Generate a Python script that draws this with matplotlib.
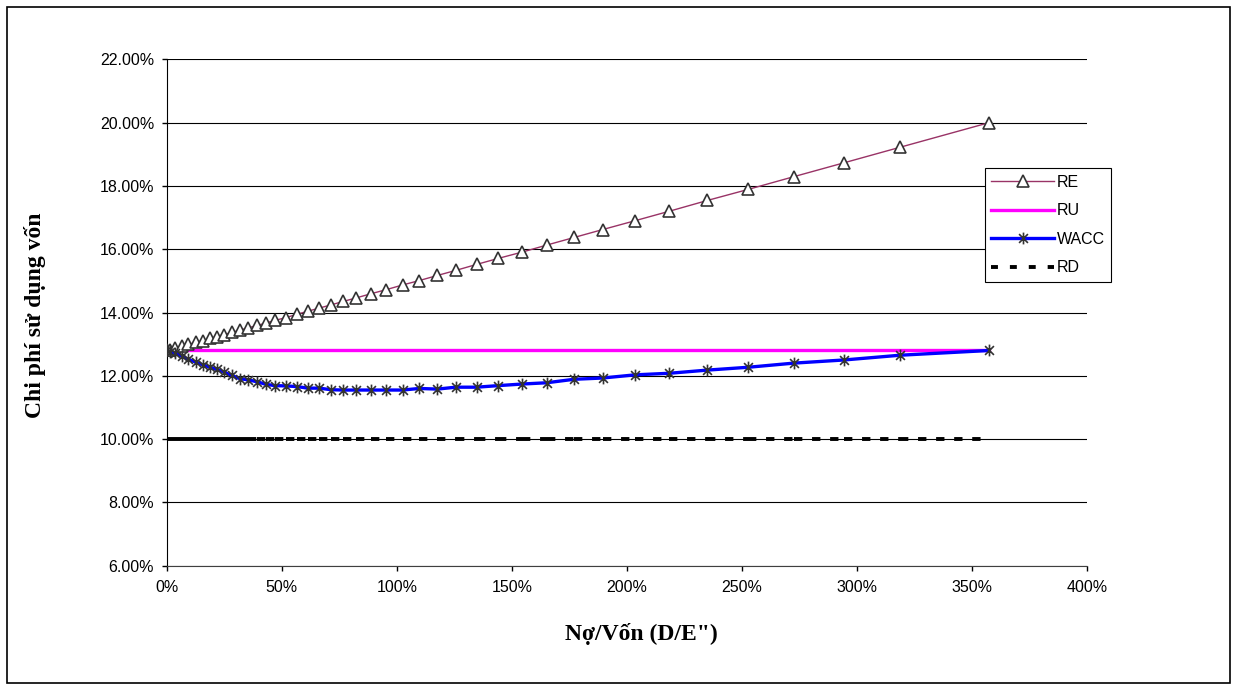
import numpy as np
import matplotlib.pyplot as plt
from matplotlib.collections import LineCollection
from matplotlib.lines import Line2D
from matplotlib.patches import Rectangle
from matplotlib.path import Path
from matplotlib.ticker import FuncFormatter, MultipleLocator

plt.rcParams['font.family'] = ['Liberation Sans', 'DejaVu Sans']
plt.rcParams['lines.scale_dashes'] = False

# debt / equity ratio (%)
de_ratio = [0, 1.4, 3.6, 6.5, 9.4, 12.7, 15.6, 18.8, 21.7, 24.9, 28.2, 31.8, 35.5,
            39.4, 43.1, 47.1, 51.8, 56.5, 61.3, 66.3, 71.4, 76.7, 82.3, 88.6, 95.3,
            102.5, 109.8, 117.6, 125.6, 134.7, 144.1, 154.5, 165.1, 177.0, 189.4,
            203.5, 218.4, 234.9, 252.7, 272.4, 294.3, 318.6, 357.4]

# cost of equity (%)
re = [12.80, 12.83, 12.87, 12.93, 12.99, 13.06, 13.11, 13.18, 13.24, 13.30, 13.37,
      13.44, 13.52, 13.59, 13.67, 13.75, 13.84, 13.94, 14.04, 14.14, 14.24, 14.35,
      14.46, 14.59, 14.72, 14.87, 15.01, 15.17, 15.33, 15.52, 15.71, 15.91, 16.13,
      16.37, 16.62, 16.90, 17.20, 17.54, 17.89, 18.29, 18.73, 19.22, 20.00]

# unlevered cost of capital (%)
ru = [12.8] * len(de_ratio)

# weighted average cost of capital (%)
wacc = [12.80, 12.76, 12.71, 12.62, 12.52, 12.43, 12.35, 12.27, 12.20, 12.12, 12.01,
        11.91, 11.87, 11.81, 11.73, 11.69, 11.68, 11.66, 11.61, 11.61, 11.56, 11.55,
        11.55, 11.55, 11.55, 11.55, 11.60, 11.58, 11.64, 11.64, 11.69, 11.74, 11.78,
        11.89, 11.93, 12.03, 12.08, 12.18, 12.27, 12.40, 12.50, 12.65, 12.80]

# cost of debt (%)
rd = [10.0] * len(de_ratio)

# Excel-like star marker: vertical bar plus an X
star = Path([(0, -1), (0, 1), (-0.75, -0.75), (0.75, 0.75), (-0.75, 0.75), (0.75, -0.75)],
            [Path.MOVETO, Path.LINETO] * 3)

W, H = 1237, 690
fig = plt.figure(figsize=(W / 100, H / 100), dpi=100)
ax = fig.add_axes([166.7 / W, 1 - 565.7 / H, (1087.3 - 166.7) / W, (565.7 - 59.3) / H])

# chart area border
fig.patches.append(Rectangle((7 / W, 7 / H), (1230 - 7) / W, (683 - 7) / H,
                             transform=fig.transFigure, fill=False,
                             edgecolor='black', linewidth=1.2))

ax.plot(de_ratio, re, color='#993366', lw=1.0, marker='^', ms=8,
        mfc='white', mec='#333333', mew=1.2, label='RE', zorder=3)
ax.plot(de_ratio, ru, color='#FF00FF', lw=2.4, label='RU', zorder=2)
ax.plot(de_ratio, wacc, color='#0000FF', lw=2.4, marker=star, ms=8.5,
        mec='#333333', mew=1.2, label='WACC', zorder=4)

# Excel-style dashes restart at every data point
segs = [[(de_ratio[i], rd[i]), (de_ratio[i + 1], rd[i + 1])] for i in range(len(rd) - 1)]
ax.add_collection(LineCollection(segs, colors='black', linewidths=2.8,
                                 linestyles=[(0, (6, 7))], capstyle='butt', zorder=2))

ax.set_xlim(0, 400)
ax.set_ylim(6, 22)
ax.xaxis.set_major_locator(MultipleLocator(50))
ax.yaxis.set_major_locator(MultipleLocator(2))
ax.xaxis.set_major_formatter(FuncFormatter(lambda v, p: f'{v:.0f}%'))
ax.yaxis.set_major_formatter(FuncFormatter(lambda v, p: f'{v:.2f}%'))
ax.tick_params(axis='both', labelsize=11.5, length=3.5, width=1, direction='out', color='black')
ax.tick_params(axis='y', pad=5.5)
ax.tick_params(axis='x', pad=7)
ax.grid(axis='y', color='black', lw=0.8)
ax.set_axisbelow(True)
for side in ['top', 'right']:
    ax.spines[side].set_visible(False)
ax.spines['left'].set_color('black')
ax.spines['bottom'].set_color('#404040')

handles = [
    Line2D([], [], color='#993366', lw=1.0, marker='^', ms=8, mfc='white', mec='#333333', mew=1.2),
    Line2D([], [], color='#FF00FF', lw=2.4),
    Line2D([], [], color='#0000FF', lw=2.4, marker=star, ms=8.5, mec='#333333', mew=1.2),
    Line2D([], [], color='black', lw=2.8, linestyle=(0, (5, 8.6)), dash_capstyle='butt'),
]
leg = fig.legend(handles, ['RE', 'RU', 'WACC', 'RD'], loc='upper left',
                 bbox_to_anchor=(985 / W, 1 - 168.3 / H), borderaxespad=0,
                 fontsize=11.5, handlelength=3.9, handletextpad=0.2, labelspacing=0.85,
                 borderpad=0.4, fancybox=False, edgecolor='black', framealpha=1,
                 markerscale=1.0)
leg.get_frame().set_linewidth(0.8)

serif = ['Liberation Serif', 'DejaVu Serif']
fig.text(641 / W, 1 - 634 / H, 'Nợ/Vốn (D/E")', family=serif, fontweight='bold',
         fontsize=17, ha='center', va='center')
fig.text(35 / W, 1 - 315 / H, 'Chi phí sử dụng vốn', family=serif, fontweight='bold',
         fontsize=17, ha='center', va='center', rotation=90)

fig.savefig('out.png', dpi=100)
